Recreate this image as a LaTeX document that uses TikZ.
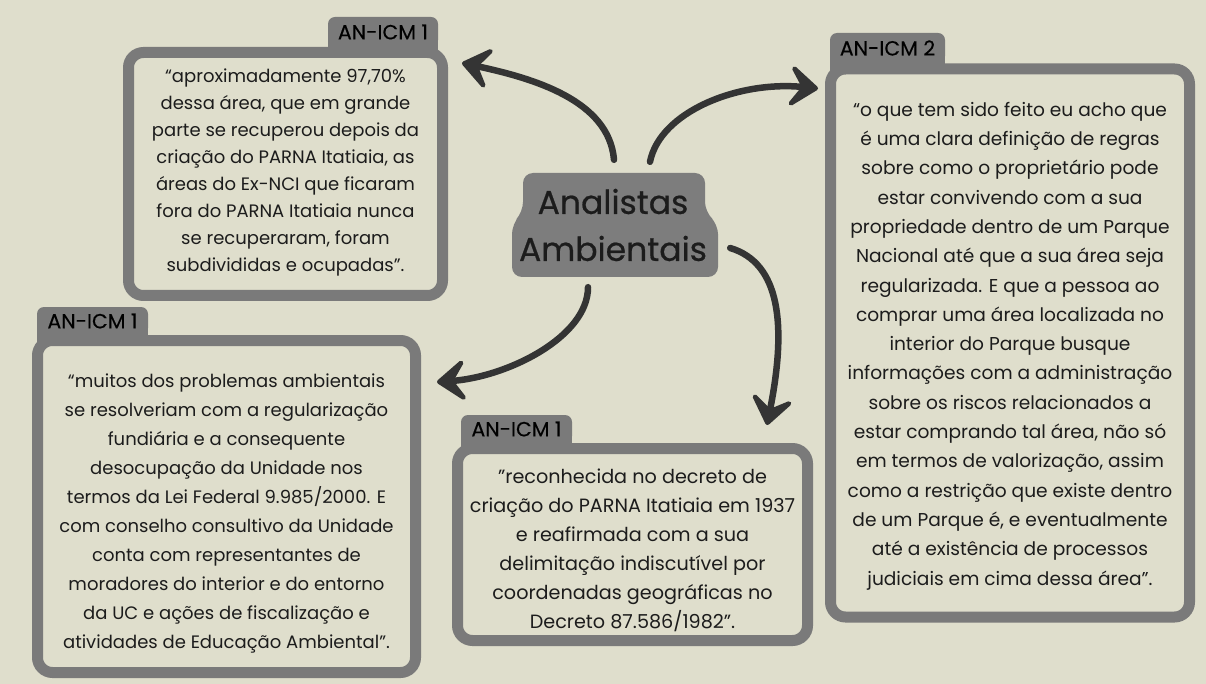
\documentclass[tikz,border=0pt]{standalone}
\usepackage{fontspec}
\setmainfont{Poppins}
\usetikzlibrary{arrows.meta,calc}
\definecolor{bg}{RGB}{223,222,204}
\definecolor{boxgray}{RGB}{122,122,122}
\definecolor{hubgray}{RGB}{125,125,125}
\definecolor{arrowc}{RGB}{52,52,52}
\definecolor{ink}{RGB}{28,28,28}
\begin{document}
\begin{tikzpicture}[x=1pt,y=-1pt,
  qbox/.style={draw=boxgray, fill=bg, line width=11pt, rounded corners=15pt,
    inner sep=0pt},
  qtext/.style={inner sep=0pt, align=center, text=ink},
  tabbox/.style={fill=boxgray, rounded corners=7pt, inner sep=0pt, text=black,
    font=\fontsize{20.5}{20.5}\selectfont\addfontfeature{FakeBold=0.3}},
  hubtext/.style={inner sep=0pt, align=center, text=ink,
    font=\fontsize{33}{47}\selectfont\addfontfeature{FakeBold=0.6}},
  arr/.style={draw=arrowc, line width=6.5pt, line cap=round,
    -{Stealth[length=36pt,width=54pt,inset=18pt,round]}}]
\fill[bg] (0,0) rectangle (1206,684);
\useasboundingbox (0,0) rectangle (1206,684);

% tabs (extensions first, so the labels stay visible)
\fill[boxgray] (328,32) rectangle (438,57);
\node[tabbox, minimum width=110pt, minimum height=30pt] (t1) at (383,32) {AN-ICM 1};
\fill[boxgray] (830,48) rectangle (945,73);
\node[tabbox, minimum width=115pt, minimum height=30pt] (t2) at (887.5,48) {AN-ICM 2};
\fill[boxgray] (37,321) rectangle (148,345);
\node[tabbox, minimum width=111pt, minimum height=28pt] (t3) at (92.5,321) {AN-ICM 1};
\fill[boxgray] (461,429) rectangle (572,453);
\node[tabbox, minimum width=111pt, minimum height=28pt] (t4) at (516.5,429) {AN-ICM 1};

% boxes
\node[qbox, minimum width=314pt, minimum height=243pt] (b1) at (285.5,174) {};
\node[qtext, font=\fontsize{18}{27}\selectfont] (b1t) at (285.5,172) {%
“aproximadamente 97,70\%\\
dessa área, que em grande\\
parte se recuperou depois da\\
criação do PARNA Itatiaia, as\\
áreas do Ex-NCI que ficaram\\
fora do PARNA Itatiaia nunca\\
se recuperaram, foram\\
subdivididas e ocupadas”.};

\node[qbox, minimum width=359pt, minimum height=548pt] (b2) at (1010,343) {};
\node[qtext, font=\fontsize{18.6}{29.3}\selectfont] (b2t) at (1010,346) {%
“o que tem sido feito eu acho que\\
é uma clara definição de regras\\
sobre como o proprietário pode\\
estar convivendo com a sua\\
propriedade dentro de um Parque\\
Nacional até que a sua área seja\\
regularizada. E que a pessoa ao\\
comprar uma área localizada no\\
interior do Parque busque\\
informações com a administração\\
sobre os riscos relacionados a\\
estar comprando tal área, não só\\
em termos de valorização, assim\\
como a restrição que existe dentro\\
de um Parque é, e eventualmente\\
até a existência de processos\\
judiciais em cima dessa área”.};

\node[qbox, minimum width=378pt, minimum height=332pt] (b3) at (226.5,506.5) {};
\node[qtext, font=\fontsize{18}{29}\selectfont] (b3t) at (226.5,513.5) {%
“muitos dos problemas ambientais\\
se resolveriam com a regularização\\
fundiária e a consequente\\
desocupação da Unidade nos\\
termos da Lei Federal 9.985/2000. E\\
com conselho consultivo da Unidade\\
conta com representantes de\\
moradores do interior e do entorno\\
da UC e ações de fiscalização e\\
atividades de Educação Ambiental”.};

\node[qbox, minimum width=350pt, minimum height=192pt] (b4) at (632.5,544.5) {};
\node[qtext, font=\fontsize{19.2}{29}\selectfont] (b4t) at (632.5,550.5) {%
\symbol{34}reconhecida no decreto de\\
criação do PARNA Itatiaia em 1937\\
e reafirmada com a sua\\
delimitação indiscutível por\\
coordenadas geográficas no\\
Decreto 87.586/1982\symbol{34}.};

% hub
\fill[hubgray, rounded corners=10pt] (523,173) -- (705,173) -- (705,212) -- (718,224)
  -- (718,277) -- (512,277) -- (512,224) -- (523,212) -- cycle;
\node[hubtext, minimum width=206pt, minimum height=104pt] (hub) at (613,225) {Analistas\\Ambientais};

% arrows
\draw[arr] ($(hub.north)+(1,-13)$) .. controls +(-5,-60) and +(70,15) .. ($(b1.north east)+(14,16)$);
\draw[arr] ($(hub.north)+(37,-11)$) .. controls +(10,-50) and +(-80,-8) .. ($(b2.north west)+(-7,25)$);
\draw[arr] ($(hub.south)+(-25,10)$) .. controls +(0,50) and +(70,-5) .. ($(b3.north east)+(16,47)$);
\draw[arr] ($(hub.east)+(14,23)$) .. controls +(50,15) and +(20,-100) .. ($(b4.north east)+(-46,-18)$);
\end{tikzpicture}
\end{document}
